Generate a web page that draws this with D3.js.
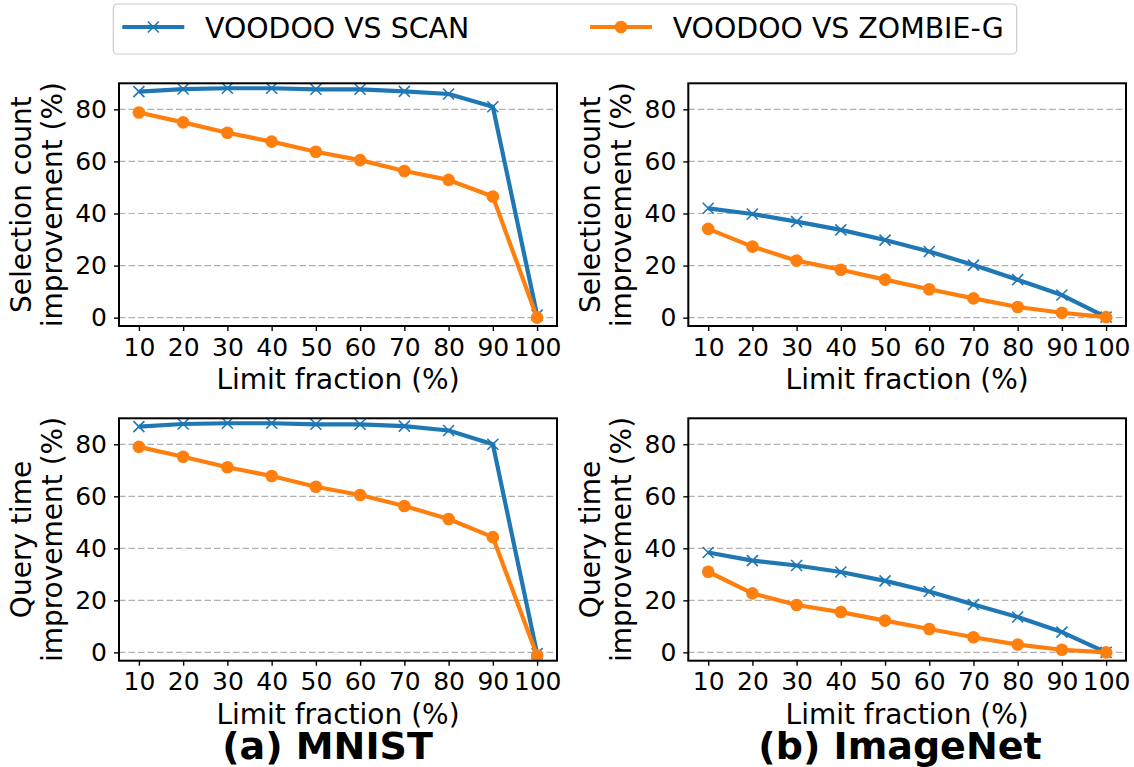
<!DOCTYPE html>
<html>
<head>
<meta charset="utf-8">
<script src="https://cdn.jsdelivr.net/npm/d3@7"></script>
<style>
  body { margin: 0; background: #fff; }
  svg { display: block; }
  text { font-family: "DejaVu Sans", sans-serif; fill: #000; }
</style>
</head>
<body>
<svg id="chart" width="1134" height="767"></svg>
<script>
// ---- data ----
const limitFractions = [10, 20, 30, 40, 50, 60, 70, 80, 90, 100];
const xTickLabels = ["10", "20", "30", "40", "50", "60", "70", "80", "90", "100"];
const yTicks = [0, 20, 40, 60, 80];
const seriesNames = ["VOODOO VS SCAN", "VOODOO VS ZOMBIE-G"];

const mnistSelScan    = [86.8, 87.8, 88.1, 88.1, 87.7, 87.7, 86.9, 85.9, 81.0, 1.0];
const mnistSelZombie  = [78.8, 75.0, 71.0, 67.6, 63.7, 60.5, 56.3, 52.9, 46.5, 0.0];
const imgSelScan      = [42.0, 39.8, 36.9, 33.7, 29.8, 25.4, 20.2, 14.6, 8.7, 0.2];
const imgSelZombie    = [34.1, 27.3, 21.9, 18.4, 14.6, 10.9, 7.4, 4.1, 1.9, 0.2];
const mnistTimeScan   = [86.8, 87.8, 88.1, 88.1, 87.7, 87.7, 87.0, 85.3, 80.0, -0.5];
const mnistTimeZombie = [79.0, 75.2, 71.2, 67.8, 63.7, 60.5, 56.3, 51.3, 44.3, -1.2];
const imgTimeScan     = [38.4, 35.3, 33.4, 30.9, 27.5, 23.4, 18.4, 13.6, 7.8, 0.0];
const imgTimeZombie   = [31.0, 22.7, 18.2, 15.5, 12.2, 9.0, 5.8, 3.0, 1.0, 0.0];

const yLabelSel = ["Selection count", "improvement (%)"];
const yLabelTime = ["Query time", "improvement (%)"];
const xLabel = "Limit fraction (%)";
const captions = ["(a) MNIST", "(b) ImageNet"];

// ---- layout ----
const colors = ["#1f77b4", "#ff7f0e"];
const cols = [[119, 557], [688.3, 1126]];
const rows = [[83.3, 326], [418.3, 660.7]];

const svg = d3.select("#chart");
svg.append("rect").attr("width", 1134).attr("height", 767).attr("fill", "#fff");

const panels = [
  {c: 0, r: 0, data: [mnistSelScan, mnistSelZombie], ylab: yLabelSel},
  {c: 1, r: 0, data: [imgSelScan, imgSelZombie], ylab: yLabelSel},
  {c: 0, r: 1, data: [mnistTimeScan, mnistTimeZombie], ylab: yLabelTime},
  {c: 1, r: 1, data: [imgTimeScan, imgTimeZombie], ylab: yLabelTime},
];

function drawMarker(g, type, x, y, color) {
  if (type === 0) {
    const s = 5.5;
    g.append("path")
      .attr("d", `M${x - s},${y - s}L${x + s},${y + s}M${x - s},${y + s}L${x + s},${y - s}`)
      .attr("stroke", color).attr("stroke-width", 1.6).attr("fill", "none");
  } else {
    g.append("circle").attr("cx", x).attr("cy", y).attr("r", 6.3).attr("fill", color);
  }
}

panels.forEach(p => {
  const [x0, x1] = cols[p.c];
  const [y0, y1] = rows[p.r];
  const x = d3.scaleLinear().domain([5.5, 104.5]).range([x0, x1]);
  const y = d3.scaleLinear().domain([-3.2, 90]).range([y1, y0]);
  const g = svg.append("g");

  // grid
  g.selectAll("line.grid").data(yTicks).enter().append("line")
    .attr("x1", x0).attr("x2", x1)
    .attr("y1", d => y(d)).attr("y2", d => y(d))
    .attr("stroke", "#b0b0b0").attr("stroke-width", 1.2)
    .attr("stroke-dasharray", "6.5,3");

  // axes
  const ax = g.append("g").attr("transform", `translate(0,${y1})`)
    .call(d3.axisBottom(x).tickValues(limitFractions)
      .tickFormat((d, i) => xTickLabels[i]).tickSize(5).tickPadding(7));
  const ay = g.append("g").attr("transform", `translate(${x0},0)`)
    .call(d3.axisLeft(y).tickValues(yTicks).tickSize(5).tickPadding(7));
  [ax, ay].forEach(a => {
    a.select(".domain").remove();
    a.selectAll(".tick line").attr("stroke", "#000").attr("stroke-width", 1.4);
    a.selectAll(".tick text").attr("font-size", 25).attr("font-family", "DejaVu Sans").attr("fill", "#000");
  });

  // lines
  p.data.forEach((vals, si) => {
    const line = d3.line().x((d, i) => x(limitFractions[i])).y(d => y(d));
    g.append("path").datum(vals).attr("d", line)
      .attr("fill", "none").attr("stroke", colors[si]).attr("stroke-width", 4.2)
      .attr("stroke-linejoin", "round");
    vals.forEach((v, i) => drawMarker(g, si, x(limitFractions[i]), y(v), colors[si]));
  });

  // frame
  g.append("rect").attr("x", x0).attr("y", y0)
    .attr("width", x1 - x0).attr("height", y1 - y0)
    .attr("fill", "none").attr("stroke", "#000").attr("stroke-width", 2);

  // x label
  g.append("text").attr("x", (x0 + x1) / 2).attr("y", y1 + 63)
    .attr("text-anchor", "middle").attr("font-size", 28).text(xLabel);

  // y label (two lines)
  const yc = (y0 + y1) / 2;
  const lx = x0 - 119;
  p.ylab.forEach((t, li) => {
    const bx = lx + (li === 0 ? 31 : 62);
    g.append("text")
      .attr("transform", `translate(${bx},${yc}) rotate(-90)`)
      .attr("text-anchor", "middle").attr("font-size", 28).text(t);
  });
});

// captions
[327.5, 900].forEach((cx, i) => {
  svg.append("text").attr("x", cx).attr("y", 759)
    .attr("text-anchor", "middle").attr("font-size", 38).attr("font-weight", "bold")
    .text(captions[i]);
});

// legend
const lg = svg.append("g");
lg.append("rect").attr("x", 113.3).attr("y", 4).attr("width", 903.4).attr("height", 50)
  .attr("rx", 4).attr("fill", "#fff").attr("stroke", "#cccccc").attr("stroke-width", 1.2);
const legendPos = [[122.3, 205], [590, 672.7]];
seriesNames.forEach((name, i) => {
  const [lx, tx] = legendPos[i];
  lg.append("line").attr("x1", lx).attr("x2", lx + 62).attr("y1", 27).attr("y2", 27)
    .attr("stroke", colors[i]).attr("stroke-width", 4.2);
  drawMarker(lg, i, lx + 31, 27, colors[i]);
  lg.append("text").attr("x", tx).attr("y", 37.5).attr("font-size", 28.4).text(name);
});
</script>
</body>
</html>
